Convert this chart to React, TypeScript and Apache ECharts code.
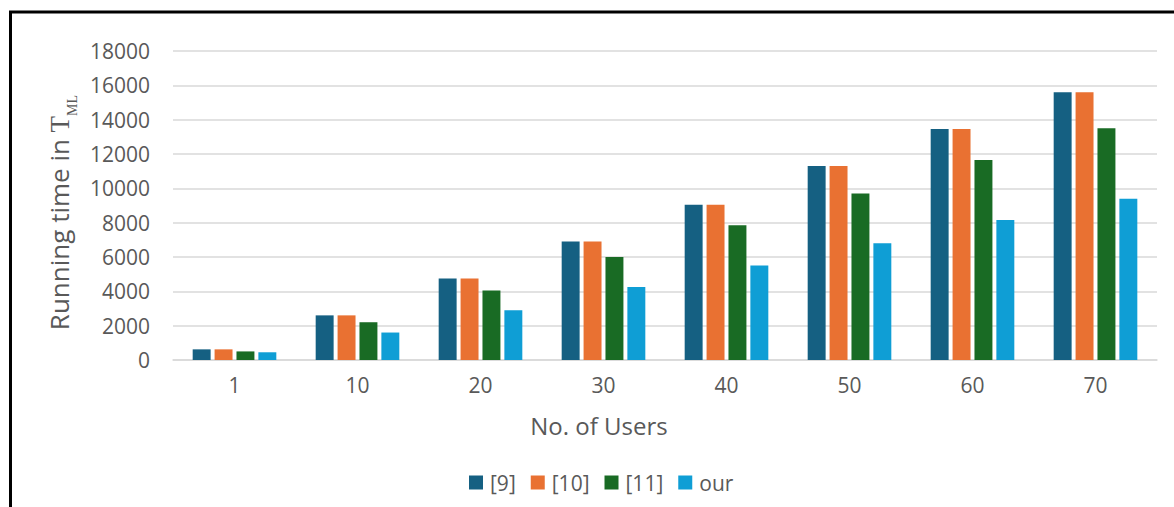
import React, { useEffect, useRef } from "react";
import * as echarts from "echarts";

const categories = ["1", "10", "20", "30", "40", "50", "60", "70"];
const seriesNames = ["[9]", "[10]", "[11]", "our"];
const ref9 = [620, 2600, 4750, 6900, 9050, 11300, 13450, 15600];
const ref10 = [620, 2600, 4750, 6900, 9050, 11300, 13450, 15600];
const ref11 = [500, 2200, 4050, 6000, 7850, 9700, 11650, 13500];
const ours = [450, 1600, 2900, 4250, 5500, 6800, 8150, 9400];
const colors = ["#156082", "#E97132", "#196B24", "#0F9ED5"];

const FONT = "Open Sans";
const GRAY = "#595959";

export default function App() {
  const ref = useRef<HTMLDivElement>(null);
  useEffect(() => {
    const chart = echarts.init(ref.current!, undefined, { renderer: "svg" });
    const data = [ref9, ref10, ref11, ours];
    chart.setOption({
      animation: false,
      backgroundColor: "#fff",
      textStyle: { fontFamily: FONT, color: GRAY },
      grid: { left: 173, right: 17, top: 51, bottom: 147, containLabel: false },
      legend: {
        bottom: 9,
        left: 464,
        itemWidth: 14,
        itemHeight: 14,
        itemGap: 15,
        icon: "rect",
        textStyle: { fontSize: 21, color: GRAY, fontFamily: FONT, padding: [0, 0, 0, 2] },
        data: seriesNames,
      },
      xAxis: {
        type: "category",
        data: categories,
        name: "No. of Users",
        nameLocation: "middle",
        nameGap: 53,
        nameTextStyle: { fontSize: 24, color: GRAY, fontFamily: FONT, padding: [0, 132, 0, 0] },
        axisTick: { show: false },
        axisLine: { lineStyle: { color: "#D9D9D9", width: 1.5 } },
        axisLabel: { fontSize: 21, color: GRAY, margin: 14 },
      },
      yAxis: {
        type: "value",
        min: 0,
        max: 18000,
        interval: 2000,
        name: "{r|Running time in }{t|T}{s|ML}",
        nameLocation: "middle",
        nameRotate: 90,
        nameGap: 93,
        nameTextStyle: {
          fontSize: 26,
          color: GRAY,
          fontFamily: FONT,
          padding: [0, 14, 0, 0],
          rich: {
            r: { fontFamily: FONT, fontSize: 26, color: GRAY, lineHeight: 32, verticalAlign: "top" },
            t: { fontFamily: "Liberation Serif", fontSize: 27, color: GRAY, lineHeight: 32, verticalAlign: "top" },
            s: { fontFamily: "Liberation Serif", fontSize: 14, color: GRAY, lineHeight: 14, verticalAlign: "top", padding: [19, 0, 0, 0] },
          },
        },
        axisLine: { show: false },
        axisTick: { show: false },
        axisLabel: { fontSize: 21, color: GRAY, margin: 23, formatter: (v: number) => String(v) },
        splitLine: { lineStyle: { color: "#D9D9D9", width: 1.5 } },
      },
      graphic: [
        {
          type: "rect",
          shape: { x: 10.5, y: 12, width: 1300, height: 700 },
          style: { fill: "none", stroke: "#000", lineWidth: 3 },
          silent: true,
        },
      ],
      series: seriesNames.map((n, i) => ({
        name: n,
        type: "bar",
        data: data[i],
        itemStyle: { color: colors[i] },
        barGap: "22%",
        barCategoryGap: "32%",
      })),
    });
    return () => chart.dispose();
  }, []);
  return (
    <div
      ref={ref}
      style={{ position: "fixed", left: 0, top: 0, width: 1174, height: 507 }}
    />
  );
}
